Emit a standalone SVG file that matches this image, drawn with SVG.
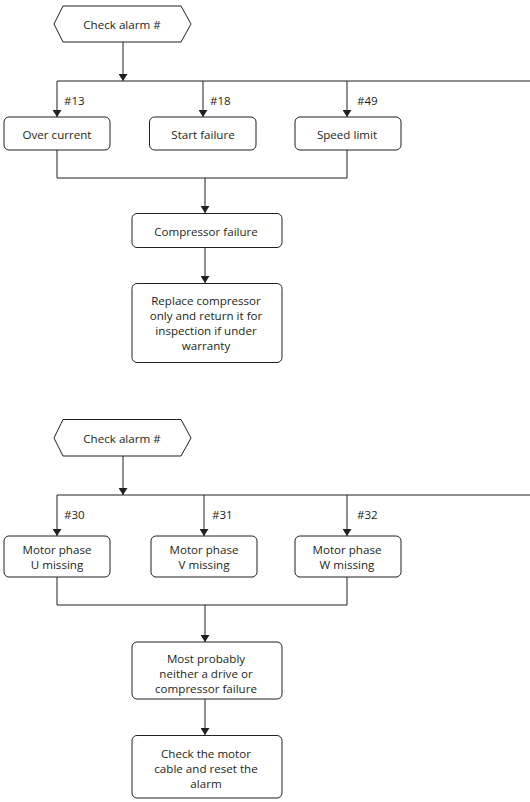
<svg xmlns="http://www.w3.org/2000/svg" width="530" height="802" viewBox="0 0 530 802">
<style>
.n{fill:#fff;stroke:#231f20;stroke-width:1}
.c{fill:none;stroke:#231f20;stroke-width:1}
text{font-family:"Open Sans","Noto Sans",sans-serif;font-size:11.6px;fill:#231f20;text-anchor:middle;dominant-baseline:central}
.l{text-anchor:start}
</style>
<defs>
<marker id="a" viewBox="0 0 10 10" refX="10" refY="5" markerWidth="7" markerHeight="9" markerUnits="userSpaceOnUse" orient="auto" preserveAspectRatio="none">
<path d="M0,0L10,5L0,10Z" fill="#231f20"/>
</marker>
</defs>
<rect width="530" height="802" fill="#fff"/>
<g id="connectors">
<line class="c" x1="123" y1="42" x2="123" y2="81" marker-end="url(#a)"/>
<line class="c" x1="57" y1="81" x2="530" y2="81"/>
<line class="c" x1="57" y1="81" x2="57" y2="117" marker-end="url(#a)"/>
<line class="c" x1="203" y1="81" x2="203" y2="117" marker-end="url(#a)"/>
<line class="c" x1="347" y1="81" x2="347" y2="117" marker-end="url(#a)"/>
<polyline class="c" points="57,150 57,178 347,178 347,150"/>
<line class="c" x1="205" y1="178" x2="205" y2="213" marker-end="url(#a)"/>
<line class="c" x1="205" y1="247" x2="205" y2="283" marker-end="url(#a)"/>
<line class="c" x1="123" y1="456" x2="123" y2="495" marker-end="url(#a)"/>
<line class="c" x1="57" y1="495" x2="530" y2="495"/>
<line class="c" x1="57" y1="495" x2="57" y2="536" marker-end="url(#a)"/>
<line class="c" x1="204" y1="495" x2="204" y2="536" marker-end="url(#a)"/>
<line class="c" x1="347" y1="495" x2="347" y2="536" marker-end="url(#a)"/>
<polyline class="c" points="57,577 57,605 347,605 347,577"/>
<line class="c" x1="205" y1="605" x2="205" y2="642" marker-end="url(#a)"/>
<line class="c" x1="205" y1="699" x2="205" y2="735" marker-end="url(#a)"/>
<text class="l" x="64" y="100">#13</text>
<text class="l" x="210" y="100">#18</text>
<text class="l" x="357" y="100">#49</text>
<text class="l" x="64" y="514">#30</text>
<text class="l" x="212" y="514">#31</text>
<text class="l" x="357" y="514">#32</text>
</g>
<g id="check1">
<polygon class="n" points="54,24 63,6 181,6 191,24 181,42 63,42"/>
<text x="122" y="24">Check alarm #</text>
</g>
<g id="over-current">
<rect class="n" x="4" y="117" width="106" height="33" rx="5"/>
<text x="57" y="134">Over current</text>
</g>
<g id="start-failure">
<rect class="n" x="149.5" y="117" width="106.5" height="33" rx="5"/>
<text x="203" y="134">Start failure</text>
</g>
<g id="speed-limit">
<rect class="n" x="295" y="117" width="106" height="33" rx="5"/>
<text x="347" y="134">Speed limit</text>
</g>
<g id="compressor-failure">
<rect class="n" x="132" y="213.5" width="150" height="34" rx="5"/>
<text x="206" y="231">Compressor failure</text>
</g>
<g id="replace">
<rect class="n" x="132" y="283.5" width="150" height="79" rx="5"/>
<text x="206" y="300">Replace compressor</text>
<text x="206" y="315.5">only and return it for</text>
<text x="206" y="330.5">inspection if under</text>
<text x="206" y="345.5">warranty</text>
</g>
<g id="check2">
<polygon class="n" points="54,438 63,419.5 181,419.5 191,438 181,456 63,456"/>
<text x="122" y="438">Check alarm #</text>
</g>
<g id="phase-u">
<rect class="n" x="4" y="536" width="106" height="41" rx="5"/>
<text x="57" y="549.5">Motor phase</text>
<text x="57" y="564.5">U missing</text>
</g>
<g id="phase-v">
<rect class="n" x="151" y="536" width="106" height="41" rx="5"/>
<text x="204" y="549.5">Motor phase</text>
<text x="204" y="564.5">V missing</text>
</g>
<g id="phase-w">
<rect class="n" x="295" y="536" width="106" height="41" rx="5"/>
<text x="347" y="549.5">Motor phase</text>
<text x="347" y="564.5">W missing</text>
</g>
<g id="most-probably">
<rect class="n" x="132" y="642" width="150" height="57" rx="5"/>
<text x="206" y="658">Most probably</text>
<text x="206" y="673">neither a drive or</text>
<text x="206" y="688">compressor failure</text>
</g>
<g id="check-cable">
<rect class="n" x="132" y="735.5" width="150" height="62.5" rx="5"/>
<text x="206" y="753">Check the motor</text>
<text x="206" y="768">cable and reset the</text>
<text x="206" y="783">alarm</text>
</g>
</svg>
